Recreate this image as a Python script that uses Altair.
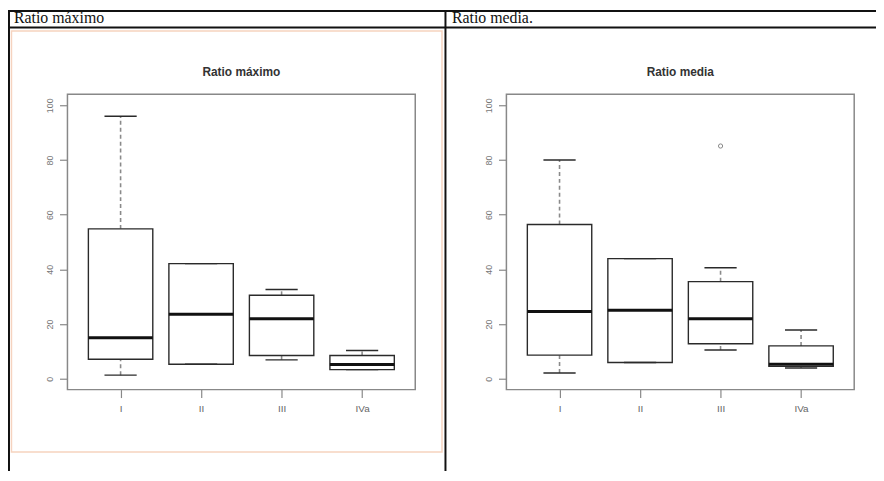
import altair as alt
import pandas as pd

# ---- data ----
categories = ["I", "II", "III", "IVa"]
positions = [1, 2, 3, 4]

# Ratio máximo (lower whisker, Q1, median, Q3, upper whisker)
max_lower = [1.3, 5.3, 6.9, 3.3]
max_q1 = [7.1, 5.3, 8.5, 3.3]
max_median = [15.0, 23.6, 21.9, 5.2]
max_q3 = [54.8, 42.1, 30.5, 8.5]
max_upper = [96.0, 42.1, 32.6, 10.3]

# Ratio media
mean_lower = [2.1, 5.9, 10.5, 3.9]
mean_q1 = [8.6, 5.9, 12.8, 4.5]
mean_median = [24.6, 25.0, 21.9, 5.3]
mean_q3 = [56.4, 43.9, 35.5, 12.0]
mean_upper = [80.0, 43.9, 40.6, 17.8]
mean_outlier_pos = [3]
mean_outlier_val = [85.1]

y_ticks = [0, 20, 40, 60, 80, 100]
header_titles = ["Ratio máximo", "Ratio media."]
panel_titles = ["Ratio máximo", "Ratio media"]

# whole picture 876 x 465; the view is the right-hand plot frame
TOTAL_W, TOTAL_H = 876, 465
OX, OY = 503, 85          # view origin inside the picture
VW, VH = 351, 298         # view (plot frame) size

one = pd.DataFrame({"k": [0]})

label_expr = " : ".join(
    f"datum.value == {p} ? '{c}'" for p, c in zip(positions[:-1], categories[:-1])
) + f" : '{categories[-1]}'"


def stats_frame(lo, q1, med, q3, hi):
    return pd.DataFrame({"cat": categories, "pos": positions, "lo": lo, "q1": q1,
                         "med": med, "q3": q3, "hi": hi})


def panel(stats, outl, title, x_range, y_axis_offset):
    xs = alt.Scale(domain=[0.34, 4.66], range=x_range, nice=False, zero=False)
    ys = alt.Scale(domain=[-4, 104], nice=False, zero=False)
    xaxis = alt.Axis(orient="bottom", values=positions, labelExpr=label_expr,
                     title=None, domain=False, grid=False, tickSize=8, tickColor="#888",
                     tickWidth=1.2, labelFont="Liberation Sans", labelFontSize=10,
                     labelColor="#666", labelPadding=6)
    yaxis = alt.Axis(orient="left", values=y_ticks, offset=y_axis_offset, title=None,
                     domain=False, grid=False, tickSize=8, tickColor="#888",
                     tickWidth=1.2, labelFont="Liberation Sans", labelFontSize=9,
                     labelColor="#777", labelAngle=-90, labelPadding=5)
    base = alt.Chart(stats).transform_calculate(
        left="datum.pos - 0.4", right="datum.pos + 0.4",
        cl="datum.pos - 0.2", cr="datum.pos + 0.2")

    def X(f):
        return alt.X(f, scale=xs, axis=xaxis)

    def Y(f):
        return alt.Y(f, scale=ys, axis=yaxis)

    box = base.mark_rect(fill="white", stroke="#2a2a2a", strokeWidth=1.4).encode(
        x=X("left:Q"), x2="right:Q", y=Y("q1:Q"), y2="q3:Q")
    wh_up = base.mark_rule(color="#8a8a8a", strokeWidth=1.6, strokeDash=[4, 3]).encode(
        x=X("pos:Q"), y=Y("q3:Q"), y2="hi:Q")
    wh_lo = base.mark_rule(color="#8a8a8a", strokeWidth=1.6, strokeDash=[4, 3]).encode(
        x=X("pos:Q"), y=Y("lo:Q"), y2="q1:Q")
    cap_up = base.mark_rule(color="#2a2a2a", strokeWidth=1.4).encode(
        x=X("cl:Q"), x2="cr:Q", y=Y("hi:Q"))
    cap_lo = base.mark_rule(color="#2a2a2a", strokeWidth=1.4).encode(
        x=X("cl:Q"), x2="cr:Q", y=Y("lo:Q"))
    med = base.mark_rule(color="#111", strokeWidth=3).encode(
        x=X("left:Q"), x2="right:Q", y=Y("med:Q"))
    frame = base.transform_filter("datum.pos == 1").transform_calculate(
        lx="0.34", rx="4.66", by="-4", ty="104").mark_rect(
        fill=None, stroke="#888", strokeWidth=1.5).encode(
        x=X("lx:Q"), x2="rx:Q", y=Y("by:Q"), y2="ty:Q")
    ttl = base.transform_filter("datum.pos == 1").transform_calculate(
        mid="2.5").mark_text(font="Liberation Sans", fontWeight="bold", fontSize=12,
                             color="#333", baseline="middle").encode(
        x=X("mid:Q"), y=alt.value(62 - OY), text=alt.value(title))
    layers = [wh_up, wh_lo, box, cap_up, cap_lo, med, frame, ttl]
    if outl is not None:
        pts = alt.Chart(outl).mark_point(shape="circle", filled=False, size=18,
                                         color="#555", strokeWidth=1).encode(
            x=X("pos:Q"), y=Y("val:Q"))
        layers.append(pts)
    return alt.layer(*layers)


stats_max = stats_frame(max_lower, max_q1, max_median, max_q3, max_upper)
stats_mean = stats_frame(mean_lower, mean_q1, mean_median, mean_q3, mean_upper)
outl_mean = pd.DataFrame({"pos": mean_outlier_pos, "val": mean_outlier_val})

panel_a = panel(stats_max, None, panel_titles[0], [60 - OX, 411 - OX], OX - 60)
panel_b = panel(stats_mean, outl_mean, panel_titles[1], [0, VW], 0)


def hline(y, x1, x2, color="#111", w=2):
    return alt.Chart(one).mark_rule(color=color, strokeWidth=w).encode(
        x=alt.value(x1 - OX), x2=alt.value(x2 - OX), y=alt.value(y - OY))


def vline(x, y1, y2, color="#111", w=2):
    return alt.Chart(one).mark_rule(color=color, strokeWidth=w).encode(
        x=alt.value(x - OX), y=alt.value(y1 - OY), y2=alt.value(y2 - OY))


peach = alt.Chart(one).mark_rect(fill=None, stroke="#f6d3bf", strokeWidth=1.5).encode(
    x=alt.value(3.5 - OX), x2=alt.value(438 - OX), y=alt.value(21 - OY),
    y2=alt.value(446 - OY))

head_a = alt.Chart(one).mark_text(font="Liberation Serif", fontSize=16, color="#111",
                                  align="left", baseline="alphabetic").encode(
    x=alt.value(6 - OX), y=alt.value(13 - OY), text=alt.value(header_titles[0]))
head_b = alt.Chart(one).mark_text(font="Liberation Serif", fontSize=16, color="#111",
                                  align="left", baseline="alphabetic").encode(
    x=alt.value(448 - OX), y=alt.value(13 - OY), text=alt.value(header_titles[1]))

decor = [hline(1, 0, TOTAL_W), hline(17.5, 0, TOTAL_W), vline(1, 0, TOTAL_H),
         vline(441.5, 0, TOTAL_H), peach, head_a, head_b]

chart = alt.layer(*decor, panel_a, panel_b).resolve_scale(
    x="independent", y="independent"
).resolve_axis(x="independent", y="independent").properties(
    width=VW, height=VH,
    padding={"left": OX, "top": OY, "right": TOTAL_W - OX - VW,
             "bottom": TOTAL_H - OY - VH},
    autosize=alt.AutoSizeParams(type="none"),
).configure_view(stroke=None)

chart.save("out.html", embed_options={"renderer": "svg", "actions": False})
